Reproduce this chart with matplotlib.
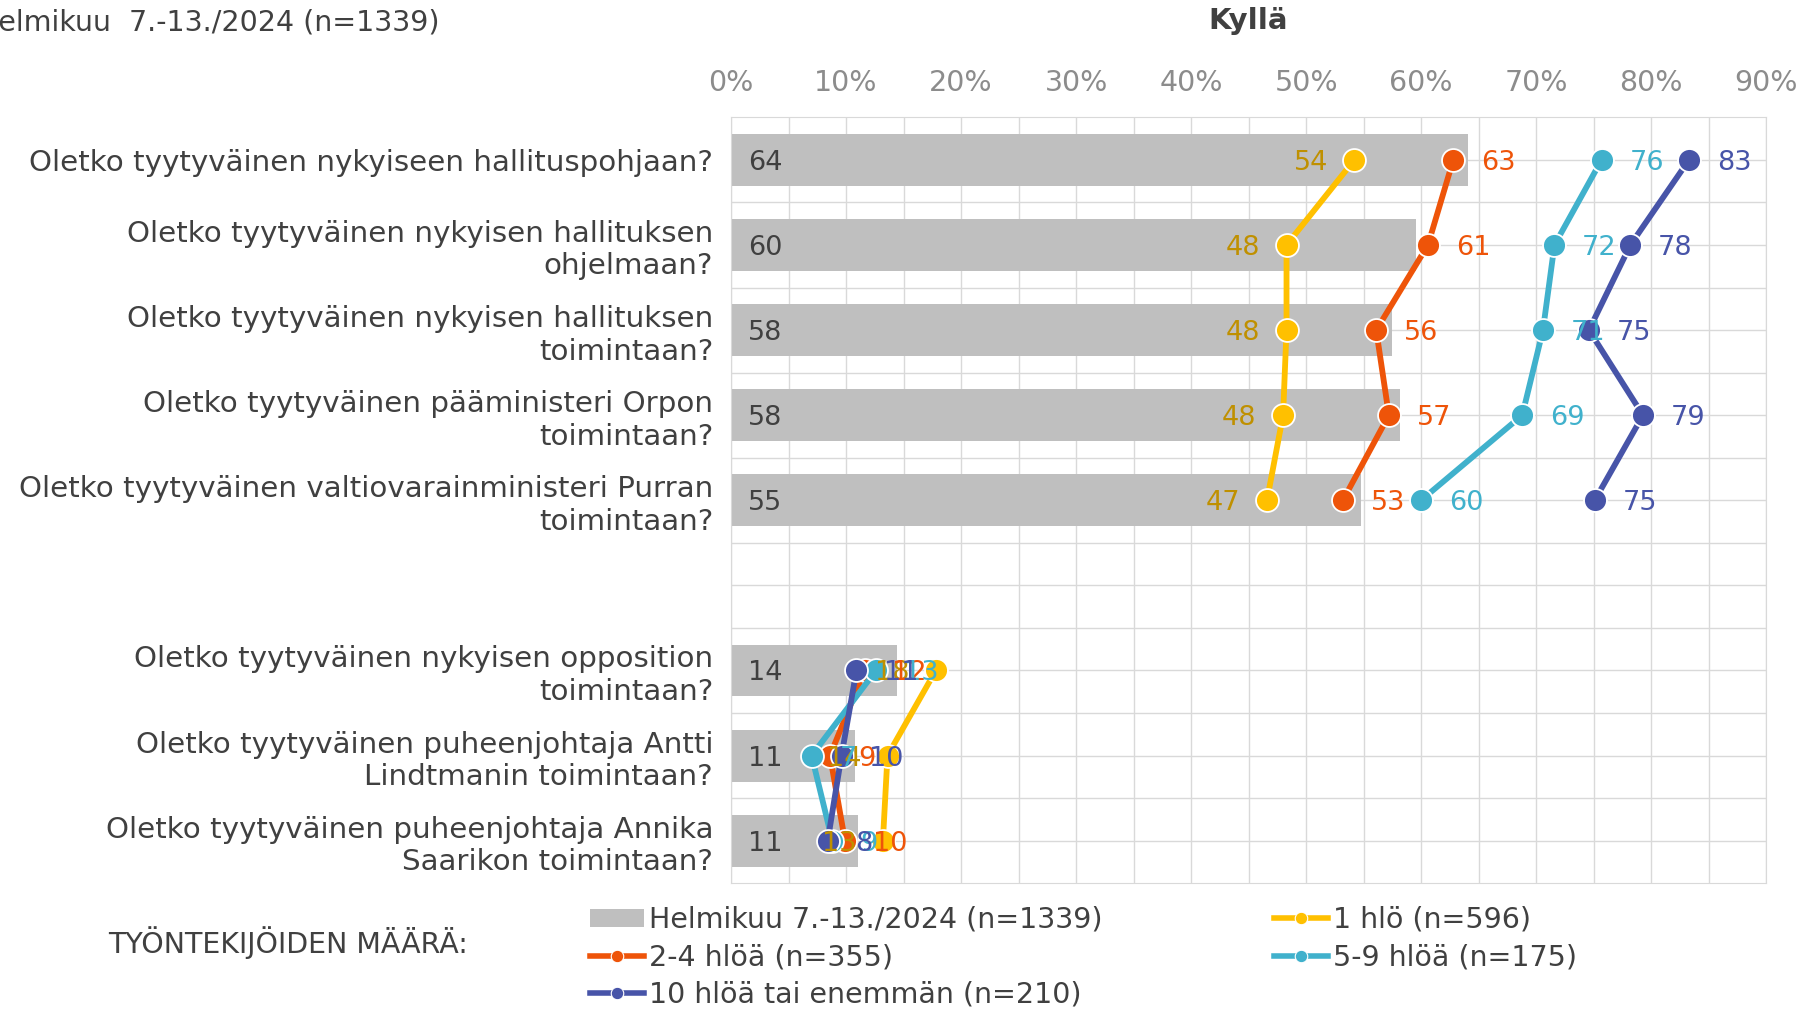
import numpy as np
import matplotlib
matplotlib.use('Agg')
import matplotlib.pyplot as plt
from matplotlib.lines import Line2D
from matplotlib.patches import Patch

plt.rcParams['font.family'] = ['DejaVu Sans']

# categories (empty slot = gap between the two groups)
questions = [
    'Oletko tyytyväinen nykyiseen hallituspohjaan?',
    'Oletko tyytyväinen nykyisen hallituksen\nohjelmaan?',
    'Oletko tyytyväinen nykyisen hallituksen\ntoimintaan?',
    'Oletko tyytyväinen pääministeri Orpon\ntoimintaan?',
    'Oletko tyytyväinen valtiovarainministeri Purran\ntoimintaan?',
    '',
    'Oletko tyytyväinen nykyisen opposition\ntoimintaan?',
    'Oletko tyytyväinen puheenjohtaja Antti\nLindtmanin toimintaan?',
    'Oletko tyytyväinen puheenjohtaja Annika\nSaarikon toimintaan?',
]
nan = np.nan
total = [64.1, 59.6, 57.5, 58.2, 54.8, nan, 14.4, 10.8, 11.0]
hlo_1 = [54.2, 48.3, 48.3, 48.0, 46.6, nan, 17.8, 13.6, 13.2]
hlo_2_4 = [62.8, 60.6, 56.1, 57.2, 53.2, nan, 11.6, 8.6, 9.9]
hlo_5_9 = [75.7, 71.6, 70.6, 68.8, 60.0, nan, 12.6, 7.0, 8.8]
hlo_10 = [83.3, 78.2, 74.6, 79.3, 75.1, nan, 10.9, 9.6, 8.4]

total_name = 'Helmikuu 7.-13./2024 (n=1339)'
series_names = ['1 hlö (n=596)', '2-4 hlöä (n=355)', '5-9 hlöä (n=175)',
                '10 hlöä tai enemmän (n=210)']
series = [hlo_1, hlo_2_4, hlo_5_9, hlo_10]
line_colors = ['#FFC000', '#EE5409', '#40B1CC', '#4754A8']
label_colors = ['#BF9000', '#EE5409', '#40B1CC', '#4754A8']
xticks = np.arange(0, 91, 10)

dark = '#404040'
grid_c = '#D9D9D9'

fig = plt.figure(figsize=(18.03, 10.10), dpi=100)
ax = fig.add_axes([0.4055, 0.1255, 0.574, 0.7583])

y = np.arange(len(questions))
ax.barh(y, total, height=0.61, color='#BFBFBF', zorder=2)
for yi, v in zip(y, total):
    if not np.isnan(v):
        ax.annotate(f'{int(v + 0.5)}', (0, yi), xytext=(12, 0), textcoords='offset points',
                    ha='left', va='center_baseline', fontsize=19.5, color=dark, zorder=10)

for i, (vals, lc, tc) in enumerate(zip(series, line_colors, label_colors)):
    ax.plot(vals, y, color=lc, lw=4.2, marker='o', ms=16.5, mfc=lc, mec='white',
            mew=1.3, zorder=3 + i)
    for yi, v in zip(y, vals):
        if np.isnan(v):
            continue
        if i == 0:
            ax.annotate(f'{int(v + 0.5)}', (v, yi), xytext=(-19, 0), textcoords='offset points',
                        ha='right', va='center_baseline', fontsize=19.5, color=tc, zorder=10 + i)
        else:
            ax.annotate(f'{int(v + 0.5)}', (v, yi), xytext=(20, 0), textcoords='offset points',
                        ha='left', va='center_baseline', fontsize=19.5, color=tc, zorder=10 + i)

ax.set_xlim(0, 90)
ax.set_ylim(8.5, -0.5)
ax.xaxis.tick_top()
ax.set_xticks(xticks)
ax.set_xticklabels([f'{t}%' for t in xticks])
ax.set_xticks(np.arange(5, 90, 10), minor=True)
ax.set_yticks(y)
ax.set_yticklabels(questions)
ax.set_yticks(np.arange(0.5, 8.5, 1), minor=True)
ax.tick_params(axis='x', which='both', length=0, pad=15, labelsize=20.5, labelcolor='#8C8C8C')
ax.tick_params(axis='y', which='both', length=0, pad=13, labelsize=21.2, labelcolor=dark)
ax.grid(True, which='both', color=grid_c, lw=1, zorder=0)
ax.set_axisbelow(True)
for s in ax.spines.values():
    s.set_color(grid_c)

fig.text(0.692, 0.979, 'Kyllä', ha='center', va='center', fontsize=21,
         fontweight='bold', color=dark)
fig.text(0.244, 0.978, 'Helmikuu  7.-13./2024 (n=1339)', ha='right', va='center',
         fontsize=20.5, color=dark)
fig.text(0.16, 0.067, 'TYÖNTEKIJÖIDEN MÄÄRÄ:', ha='center', va='center',
         fontsize=20.5, color=dark)

handles = [Patch(facecolor='#BFBFBF', edgecolor='none')]
for lc in line_colors:
    handles.append(Line2D([], [], color=lc, lw=4, marker='o', ms=9, mfc=lc, mec='white', mew=0.8))
labels = [total_name] + series_names
order = [0, 2, 4, 1, 3]
fig.legend([handles[k] for k in order], [labels[k] for k in order],
           loc='upper left', bbox_to_anchor=(0.327, 0.103), ncol=2, frameon=False,
           fontsize=20.5, handlelength=1.9, handleheight=0.6, handletextpad=0.2,
           columnspacing=6.0, labelspacing=0.33, borderpad=0, borderaxespad=0,
           labelcolor=dark)

fig.savefig('out.png', dpi=100)
